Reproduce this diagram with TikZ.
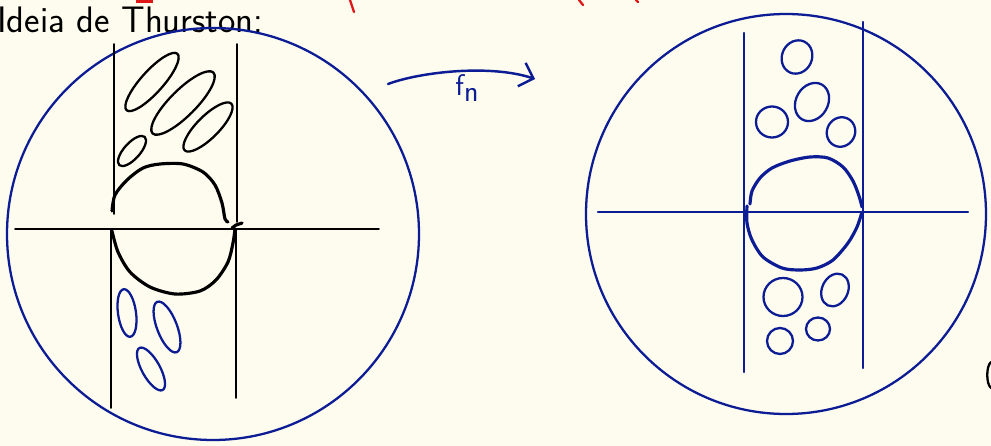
\documentclass[tikz,border=0pt]{standalone}
\usetikzlibrary{arrows.meta}
\definecolor{paper}{RGB}{254,252,239}
\definecolor{ink}{RGB}{12,28,148}
\definecolor{redink}{RGB}{222,24,24}
\tikzset{
  disk/.style={ink, line width=1.3pt},
  pen/.style={line width=1.1pt},
  thick pen/.style={line width=1.8pt},
  blob/.style={line width=1.3pt},
}
\begin{document}
\begin{tikzpicture}[x=0.02cm, y=-0.02cm, line join=round, line cap=round, >=stealth, font=\sffamily]
  \fill[paper] (0,0) rectangle (991,446);
  \useasboundingbox (0,0) rectangle (991,446);
  \path
  (213,234) coordinate (O_1)
  (786,214) coordinate (O_2)
  (388,84) coordinate (A)
  (535,79) coordinate (B)
  ;
  % title and cut-off marks
  \node[anchor=base west, inner sep=0pt, font=\sffamily\fontsize{21}{24}\selectfont] at (-3,33) {Ideia de Thurston:};
  \draw[redink, line width=1.3pt] (350,0) -- (354,12) (579,0) -- (583,5) (636,0) -- (638,2);
  \fill[redink] (136,0) rectangle (153,3);
  \draw[line width=1.3pt] (991,362) .. controls (986,366) and (986,384) .. (991,388);

  % left disk
  \draw[disk] (O_1) circle (206);
  \draw[pen] (15,229) -- (379,229);
  \draw[pen] (114,44) -- (114,214) (111,230) -- (111,408);
  \draw[pen] (237,44) -- (237,222) (236,229) -- (236,398);
  \draw[thick pen] plot[smooth] coordinates {(112,211) (115,195) (127,180) (143,168) (160,164) (183,164) (203,172) (215,185) (222,203) (225,219) (228,222)};
  \draw[thick pen] (232,228) -- (236,225) -- (242,223);
  \draw[thick pen] plot[smooth] coordinates {(112,231) (118,252) (130,272) (150,287) (175,294) (200,291) (216,280) (228,262) (233,243) (235,229)};
  \foreach \cx/\cy/\rx/\ry/\ang in {152/82/38/11/48, 183/103/43/13/45, 208/127/33/11/45, 132/151/19/8/48}
    \draw[blob, black, shift={(\cx,\cy)}, rotate=\ang] (0,0) ellipse[x radius=\rx, y radius=\ry];
  \foreach \cx/\cy/\rx/\ry/\ang in {127/313/24/9/98, 167/327/27/10/111, 151/369/24/9/119}
    \draw[blob, ink, shift={(\cx,\cy)}, rotate=\ang] (0,0) ellipse[x radius=\rx, y radius=\ry];

  % the map
  \draw[ink, line width=1.4pt, -{Straight Barb[length=7pt, width=14pt, line width=1.4pt]}]
    (A) .. controls (420,72) and (490,64) .. (B);
  \node[ink, font=\sffamily\fontsize{17}{19}\selectfont] at (467,88) {f\raisebox{-3pt}{n}};

  % right disk
  \draw[disk] (O_2) circle (200);
  \draw[disk] (598,212) -- (968,212);
  \draw[disk] (744,33) -- (744,372) (863,22) -- (863,368);
  \draw[ink, thick pen] plot[smooth] coordinates {(750,204) (752,191) (760,178) (772,168) (790,161) (810,157) (828,158) (843,167) (853,181) (859,196) (862,207)};
  \draw[ink, thick pen] plot[smooth] coordinates {(747,206) (747,223) (752,240) (763,257) (782,268) (800,270) (817,268) (833,260) (848,243) (857,227) (862,212)};
  \foreach \cx/\cy/\rx/\ry/\ang in {797/57/17/15/65, 812/102/20/16/60, 772/122/16/15.5/0, 841/132/15/14/60,
    783/297/19.5/19/0, 835/290/17/13/65, 780/341/13/13/0, 818/329/12/11.5/0}
    \draw[blob, ink, shift={(\cx,\cy)}, rotate=\ang] (0,0) ellipse[x radius=\rx, y radius=\ry];
\end{tikzpicture}
\end{document}
